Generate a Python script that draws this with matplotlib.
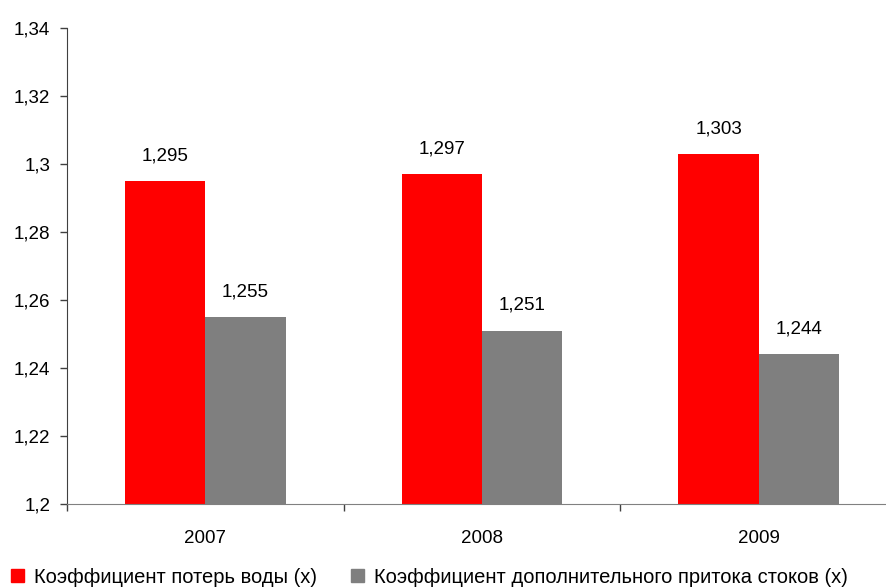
import matplotlib
matplotlib.use("Agg")
import matplotlib.pyplot as plt
from matplotlib.patches import Patch
from matplotlib.ticker import FuncFormatter, FixedLocator
import numpy as np

plt.rcParams['font.family'] = ['Liberation Sans', 'DejaVu Sans']

years = ["2007", "2008", "2009"]
water_loss = [1.295, 1.297, 1.303]
extra_inflow = [1.255, 1.251, 1.244]
series_names = ["Коэффициент потерь воды (х)",
                "Коэффициент дополнительного притока стоков (х)"]
colors = ["#ff0000", "#7f7f7f"]

y_min, y_max = 1.2, 1.34
y_ticks = [1.2, 1.22, 1.24, 1.26, 1.28, 1.3, 1.32, 1.34]

fig = plt.figure(figsize=(8.87, 5.87), dpi=100)
ax = fig.add_axes([67 / 887, 1 - 504 / 587, 830 / 887, 476 / 587])

x = np.arange(len(years))
w = 0.29
ax.bar(x - w / 2, [v - y_min for v in water_loss], w, bottom=y_min, color=colors[0])
ax.bar(x + w / 2, [v - y_min for v in extra_inflow], w, bottom=y_min, color=colors[1])

def fmt(v):
    s = f"{v:.3f}".rstrip("0").rstrip(".")
    return s.replace(".", ",")

for xi, v in zip(x, water_loss):
    ax.annotate(fmt(v), (xi - w / 2, v), xytext=(0, 12), textcoords="offset points",
                ha="center", va="bottom", fontsize=13.5)
for xi, v in zip(x, extra_inflow):
    ax.annotate(fmt(v), (xi + w / 2, v), xytext=(0, 12), textcoords="offset points",
                ha="center", va="bottom", fontsize=13.5)

ax.set_ylim(y_min, y_max)
ax.set_xlim(-0.5, len(years) - 0.5)
ax.yaxis.set_major_locator(FixedLocator(y_ticks))
ax.yaxis.set_major_formatter(FuncFormatter(lambda v, p: fmt(round(v, 3))))

# category labels centred, tick marks at category boundaries
ax.set_xticks(x)
ax.set_xticklabels(years)
ax.tick_params(axis="x", which="major", length=0, pad=19, labelsize=13.5)
ax.set_xticks(np.arange(len(years) + 1) - 0.5, minor=True)
ax.tick_params(axis="x", which="minor", length=5, color="#404040", width=1)
ax.tick_params(axis="y", length=5, color="#404040", width=1, labelsize=13.5, pad=7)

for s in ["top", "right"]:
    ax.spines[s].set_visible(False)
ax.spines["left"].set_color("#404040")
ax.spines["bottom"].set_color("#808080")

handles = [Patch(color=c, label=n) for c, n in zip(colors, series_names)]
fig.legend(handles=handles, loc="lower left", bbox_to_anchor=(0.003, -0.013),
           ncol=2, frameon=False, fontsize=14.5, handlelength=0.65, handleheight=0.65,
           handletextpad=0.5, columnspacing=1.7, borderaxespad=0)

fig.savefig("out.png", dpi=100)
